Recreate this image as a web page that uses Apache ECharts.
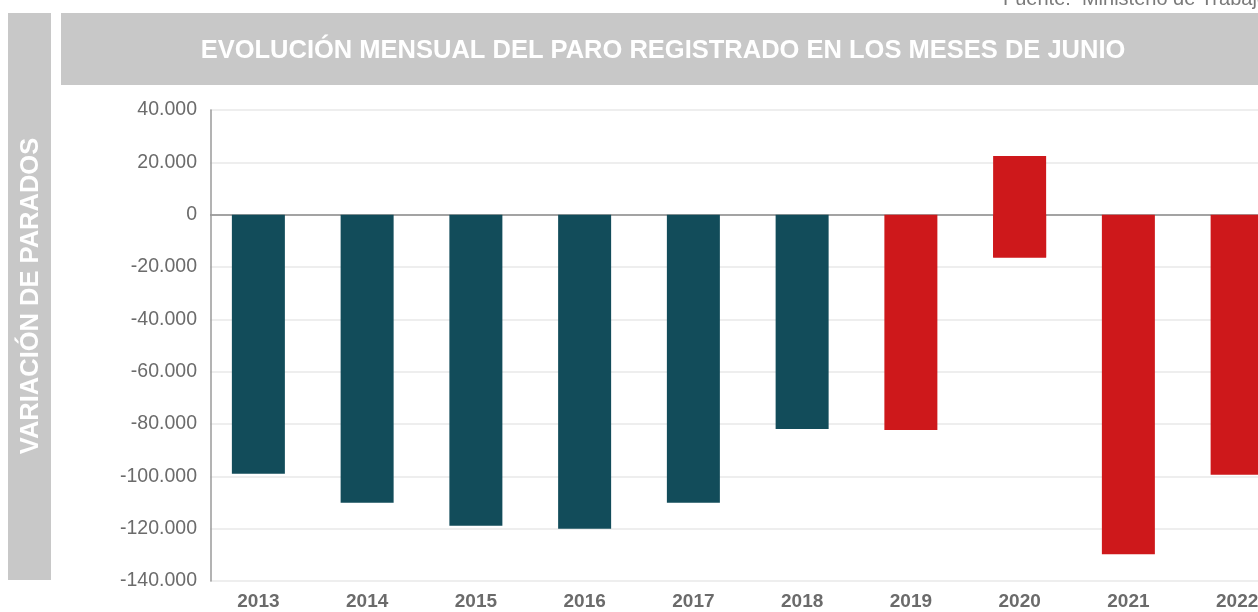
<!DOCTYPE html>
<html>
<head>
<meta charset="utf-8">
<script src="https://cdn.jsdelivr.net/npm/echarts@6/dist/echarts.min.js"></script>
<style>
  html, body { margin: 0; padding: 0; background: #fff; overflow: hidden; }
  #chart { width: 1300px; height: 612px; }
</style>
</head>
<body>
<div id="chart"></div>
<script>
// datos (variación del paro registrado en junio)
const years = ['2013', '2014', '2015', '2016', '2017', '2018', '2019', '2020', '2021', '2022']
const variation = [-99000, -110100, -118900, -120000, -110100, -81900, -82300, -16400, -129800, -99400]
// parte positiva de la barra de 2020
const positivePart = [null, null, null, null, null, null, null, 22400, null, null]
const yTicks = { min: -140000, max: 40000, interval: 20000 }

const TEAL = '#124c5a'
const RED = '#ce181b'
const GREY = '#c8c8c8'
const FONT = '"Liberation Sans", Arial, sans-serif'
const BAR_W = 53

function barColor(i) {
  return Number(years[i]) >= 2019 ? RED : TEAL
}

function fmt(v) {
  const s = Math.abs(v).toString().replace(/\B(?=(\d{3})+(?!\d))/g, '.')
  return (v < 0 ? '-' : '') + s
}

// rejilla clara, salvo la línea del cero (más oscura)
const gridColors = []
for (let v = yTicks.min; v <= yTicks.max; v += yTicks.interval) {
  gridColors.push(v === 0 ? '#858585' : '#e8e8e8')
}

// barras que cruzan el cero: [categoría, mínimo, máximo]
const spans = []
positivePart.forEach((p, i) => {
  if (p != null) spans.push([i, variation[i], p])
})

const chart = echarts.init(document.getElementById('chart'))
chart.setOption({
  backgroundColor: '#fff',
  animation: false,
  graphic: [
    { type: 'rect', left: 8, top: 13, shape: { width: 43, height: 567 }, style: { fill: GREY }, z: 0 },
    { type: 'rect', left: 61, top: 13, shape: { width: 1239, height: 72 }, style: { fill: GREY }, z: 0 },
    // tapa el tramo de rejilla a la izquierda del eje vertical
    { type: 'rect', left: 200, top: 100, shape: { width: 10, height: 486 }, style: { fill: '#fff' }, z: 5 },
    {
      type: 'text', x: 663, y: 51,
      style: {
        text: 'EVOLUCIÓN MENSUAL DEL PARO REGISTRADO EN LOS MESES DE JUNIO',
        fill: '#fff', font: 'bold 25.5px ' + FONT,
        align: 'center', verticalAlign: 'middle',
      },
      z: 10,
    },
    {
      type: 'text', x: 31, y: 296, rotation: Math.PI / 2,
      style: {
        text: 'VARIACIÓN DE PARADOS',
        fill: '#fff', font: 'bold 25.5px ' + FONT,
        align: 'center', verticalAlign: 'middle',
      },
      z: 10,
    },
    {
      type: 'text', x: 1003, y: 9,
      style: {
        text: 'Fuente:  Ministerio de Trabajo y Economía Social',
        fill: '#7a7a7a', font: '20px ' + FONT,
        align: 'left', verticalAlign: 'bottom',
      },
      z: 10,
    },
  ],
  grid: { left: 204, right: 8.5, top: 110, bottom: 31 },
  xAxis: {
    type: 'category',
    data: years,
    axisLine: { show: false, onZero: false },
    axisTick: { show: false },
    axisLabel: {
      color: '#6b6b6b', fontSize: 19, fontWeight: 'bold',
      fontFamily: FONT, margin: 11,
    },
  },
  yAxis: {
    type: 'value',
    min: yTicks.min,
    max: yTicks.max,
    interval: yTicks.interval,
    offset: -7,
    axisLine: { show: true, onZero: false, lineStyle: { color: '#9a9a9a', width: 1.5 } },
    axisTick: { show: false },
    axisLabel: {
      color: '#6b6b6b', fontSize: 19.5, margin: 14,
      fontFamily: FONT,
      formatter: v => fmt(v),
    },
    splitLine: { lineStyle: { color: gridColors, width: 1.5 } },
  },
  series: [
    {
      name: 'variación',
      type: 'bar',
      barWidth: BAR_W,
      data: variation,
      itemStyle: { color: p => barColor(p.dataIndex) },
      z: 3,
    },
    {
      // 2020: barra continua desde el mínimo hasta el máximo
      name: 'rango',
      type: 'custom',
      data: spans,
      encode: { x: 0, y: [1, 2] },
      renderItem: (params, api) => {
        const lo = api.coord([api.value(0), api.value(1)])
        const hi = api.coord([api.value(0), api.value(2)])
        return {
          type: 'rect',
          shape: { x: lo[0] - BAR_W / 2, y: hi[1], width: BAR_W, height: lo[1] - hi[1] },
          style: { fill: barColor(api.value(0)) },
        }
      },
      z: 4,
    },
  ],
})
</script>
</body>
</html>
